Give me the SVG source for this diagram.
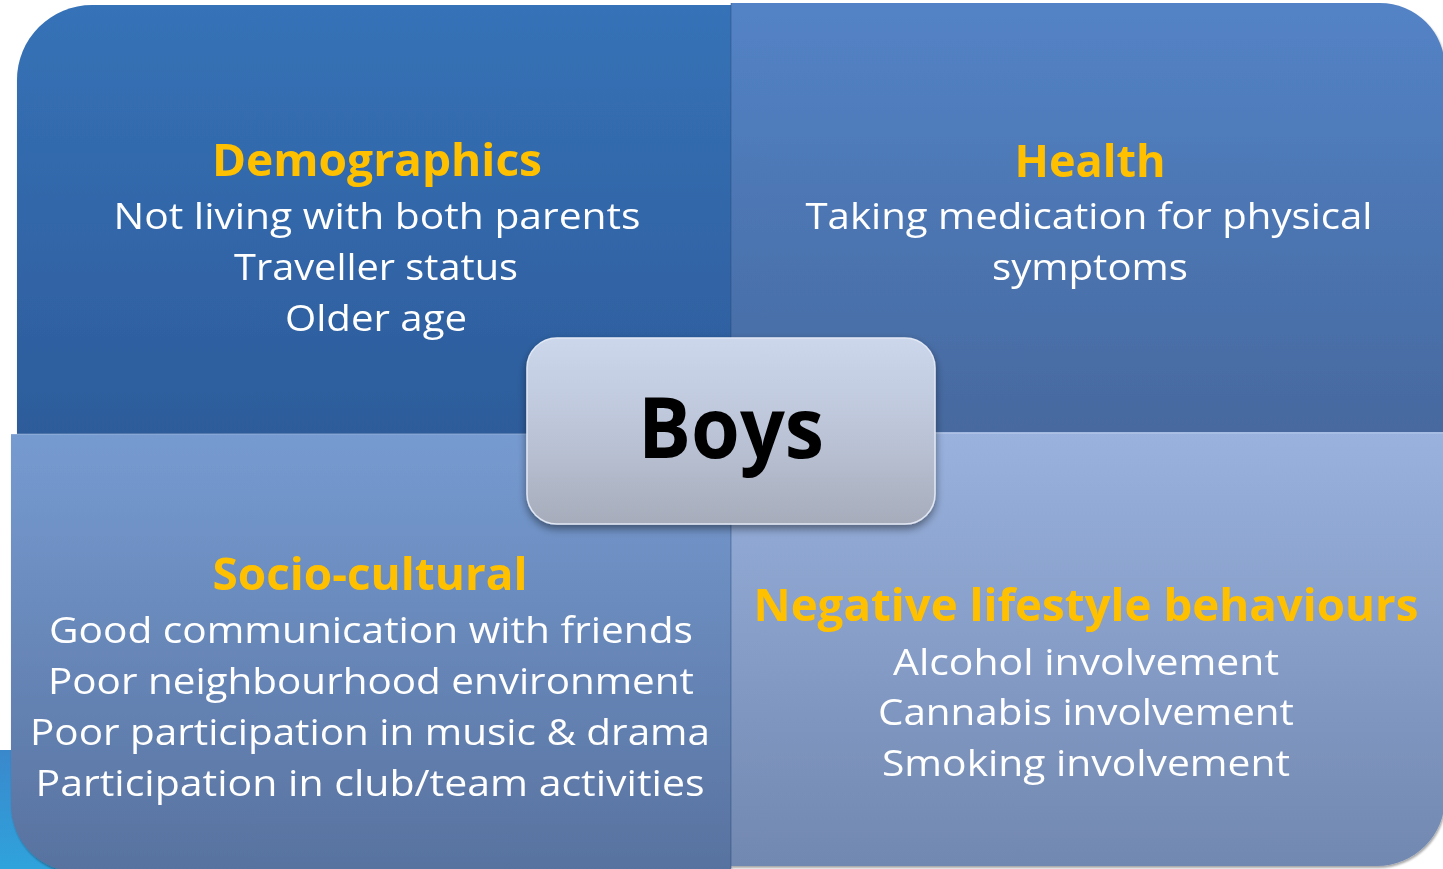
<svg xmlns="http://www.w3.org/2000/svg" width="1443" height="869" viewBox="0 0 1443 869">
  <defs>
    <linearGradient id="gTL" x1="0" y1="0" x2="0" y2="1">
      <stop offset="0" stop-color="#3672b7"/>
      <stop offset="1" stop-color="#2d5c9b"/>
    </linearGradient>
    <linearGradient id="gTR" x1="0" y1="0" x2="0" y2="1">
      <stop offset="0" stop-color="#5383c6"/>
      <stop offset="1" stop-color="#46699f"/>
    </linearGradient>
    <linearGradient id="gBL" x1="0" y1="0" x2="0" y2="1">
      <stop offset="0" stop-color="#769bd1"/>
      <stop offset="1" stop-color="#58729f"/>
    </linearGradient>
    <linearGradient id="gBR" x1="0" y1="0" x2="0" y2="1">
      <stop offset="0" stop-color="#99b2de"/>
      <stop offset="1" stop-color="#7188b0"/>
    </linearGradient>
    <linearGradient id="gC" x1="0" y1="0" x2="0" y2="1">
      <stop offset="0" stop-color="#ccd7ec"/>
      <stop offset="0.5" stop-color="#bcc5d8"/>
      <stop offset="1" stop-color="#a6acba"/>
    </linearGradient>
    <linearGradient id="gBg" x1="0" y1="0" x2="0" y2="1">
      <stop offset="0" stop-color="#3a88cc"/>
      <stop offset="1" stop-color="#2fa3dc"/>
    </linearGradient>
    <filter id="sh" x="-10%" y="-10%" width="120%" height="130%">
      <feGaussianBlur in="SourceAlpha" stdDeviation="4"/>
      <feOffset dx="0" dy="4" result="b"/>
      <feComponentTransfer><feFuncA type="linear" slope="0.45"/></feComponentTransfer>
      <feMerge><feMergeNode/><feMergeNode in="SourceGraphic"/></feMerge>
    </filter>
    <filter id="ts" x="-5%" y="-20%" width="110%" height="140%">
      <feGaussianBlur in="SourceAlpha" stdDeviation="1.2"/>
      <feOffset dx="1" dy="1.5"/>
      <feComponentTransfer><feFuncA type="linear" slope="0.35"/></feComponentTransfer>
      <feMerge><feMergeNode/><feMergeNode in="SourceGraphic"/></feMerge>
    </filter>
  </defs>
  <style>
    .h { font-family: "Open Sans", "Noto Sans", sans-serif; font-weight: 700; font-size: 45px; fill: #ffc000; text-anchor: middle; }
    .t { font-family: "Open Sans", "Noto Sans", sans-serif; font-weight: 400; font-size: 36px; fill: #ffffff; text-anchor: middle; }
    .boys { font-family: "Open Sans", "Noto Sans", sans-serif; font-weight: 700; font-size: 85px; fill: #000000; text-anchor: middle; }
  </style>
  <rect x="0" y="0" width="1443" height="869" fill="#ffffff"/>
  <rect x="0" y="750" width="140" height="119" fill="url(#gBg)"/>

  <g id="quadrant-demographics" filter="url(#ts)">
    <path d="M17,434 L17,80 A75,75 0 0 1 92,5 L731,5 L731,434 Z" fill="url(#gTL)"/>
    <text class="h" x="377" y="176" textLength="330" lengthAdjust="spacingAndGlyphs">Demographics</text>
    <text class="t" x="377" y="229" textLength="527" lengthAdjust="spacingAndGlyphs">Not living with both parents</text>
    <text class="t" x="376" y="280" textLength="284" lengthAdjust="spacingAndGlyphs">Traveller status</text>
    <text class="t" x="376" y="331" textLength="182" lengthAdjust="spacingAndGlyphs">Older age</text>
  </g>

  <g id="quadrant-health" filter="url(#ts)">
    <path d="M731,3 L1380,3 A65,65 0 0 1 1445,68 L1445,432 L731,432 Z" fill="url(#gTR)"/>
    <text class="h" x="1090" y="177" textLength="151" lengthAdjust="spacingAndGlyphs">Health</text>
    <text class="t" x="1089" y="229" textLength="567" lengthAdjust="spacingAndGlyphs">Taking medication for physical</text>
    <text class="t" x="1090" y="280" textLength="196" lengthAdjust="spacingAndGlyphs">symptoms</text>
  </g>

  <g id="quadrant-sociocultural" filter="url(#ts)">
    <path d="M11,434 L731,434 L731,872 L78,872 A67,67 0 0 1 11,805 Z" fill="url(#gBL)"/>
    <text class="h" x="370" y="590" textLength="315" lengthAdjust="spacingAndGlyphs">Socio-cultural</text>
    <text class="t" x="371" y="643" textLength="644" lengthAdjust="spacingAndGlyphs">Good communication with friends</text>
    <text class="t" x="371" y="694" textLength="646" lengthAdjust="spacingAndGlyphs">Poor neighbourhood environment</text>
    <text class="t" x="370" y="745" textLength="680" lengthAdjust="spacingAndGlyphs">Poor participation in music &amp; drama</text>
    <text class="t" x="370" y="796" textLength="669" lengthAdjust="spacingAndGlyphs">Participation in club/team activities</text>
  </g>

  <g id="quadrant-lifestyle" filter="url(#ts)">
    <path d="M731,432 L1445,432 L1445,798 A68,68 0 0 1 1377,866 L731,866 Z" fill="url(#gBR)"/>
    <text class="h" x="1086" y="621" textLength="665" lengthAdjust="spacingAndGlyphs">Negative lifestyle behaviours</text>
    <text class="t" x="1086" y="675" textLength="386" lengthAdjust="spacingAndGlyphs">Alcohol involvement</text>
    <text class="t" x="1086" y="725" textLength="416" lengthAdjust="spacingAndGlyphs">Cannabis involvement</text>
    <text class="t" x="1086" y="776" textLength="408" lengthAdjust="spacingAndGlyphs">Smoking involvement</text>
  </g>

  <g id="connectors">
    <line x1="731" y1="3" x2="731" y2="868" stroke="#2a4f80" stroke-opacity="0.25" stroke-width="2"/>
    <line x1="11" y1="434" x2="1443" y2="433" stroke="#ffffff" stroke-opacity="0.2" stroke-width="1.5"/>
  </g>

  <g id="node-boys">
    <rect x="527" y="338" width="408" height="186" rx="30" ry="30" fill="url(#gC)" stroke="#e2e8f3" stroke-width="1.5" filter="url(#sh)"/>
    <text class="boys" x="731" y="458" textLength="186" lengthAdjust="spacingAndGlyphs">Boys</text>
  </g>
</svg>
